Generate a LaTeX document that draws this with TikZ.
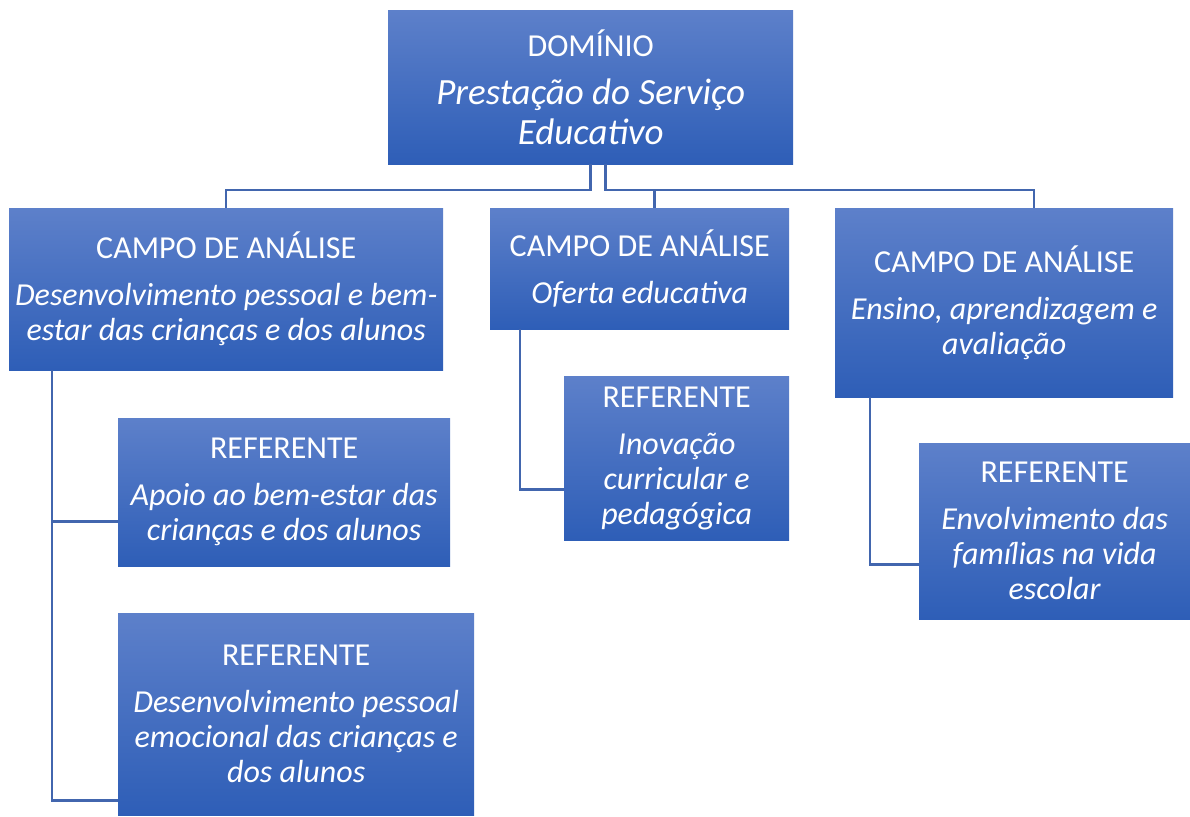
\documentclass[tikz,border=0pt]{standalone}
\usepackage{fontspec}
\setmainfont{Carlito}
\definecolor{topo}{RGB}{93,128,202}
\definecolor{fundo}{RGB}{46,94,183}
\definecolor{linha}{RGB}{66,102,174}
\begin{document}
\begin{tikzpicture}
	[
		x=1pt,
		y=-1pt,
		caixa/.style={anchor=north west,inner sep=0pt,align=center,text=white,
			top color=topo,bottom color=fundo,font=\fontsize{32}{35}\selectfont},
		ligacao/.style={line width=2.5pt,color=linha}
	]
		\useasboundingbox (0,0) rectangle (1190,816);
		% dominio e campos de analise
		\node[caixa,minimum width=405,minimum height=154,font=\fontsize{37}{40}\selectfont] (dominio) at (388,10)
			{{\fontsize{32}{40}\selectfont DOMÍNIO}\\[8pt]\textit{Prestação do Serviço}\\\textit{Educativo}};
		\node[caixa,minimum width=434,minimum height=162] (campoA) at (9,208)
			{CAMPO DE ANÁLISE\\[12pt]\textit{Desenvolvimento pessoal e bem-}\\\textit{estar das crianças e dos alunos}};
		\node[caixa,minimum width=299,minimum height=121] (campoB) at (490,208)
			{CAMPO DE ANÁLISE\\[12pt]\textit{Oferta educativa}};
		\node[caixa,minimum width=338,minimum height=189] (campoC) at (835,208)
			{CAMPO DE ANÁLISE\\[12pt]\textit{Ensino, aprendizagem e}\\\textit{avaliação}};
		% referentes
		\node[caixa,minimum width=332,minimum height=148] (refA) at (118,418)
			{REFERENTE\\[12pt]\textit{Apoio ao bem-estar das}\\\textit{crianças e dos alunos}};
		\node[caixa,minimum width=356,minimum height=202] (refB) at (118,613)
			{REFERENTE\\[12pt]\textit{Desenvolvimento pessoal}\\\textit{emocional das crianças e}\\\textit{dos alunos}};
		\node[caixa,minimum width=225,minimum height=164] (refC) at (564,376)
			{REFERENTE\\[12pt]\textit{Inovação}\\\textit{curricular e}\\\textit{pedagógica}};
		\node[caixa,minimum width=271,minimum height=176] (refD) at (919,443)
			{REFERENTE\\[12pt]\textit{Envolvimento das}\\\textit{famílias na vida}\\\textit{escolar}};
		% ligacoes
		\coordinate (barra) at (0,190);
		\draw [ligacao] (dominio.south) |- (campoA.north |- barra) -- (campoA.north);
		\draw [ligacao] ([xshift=15]dominio.south) |- ([xshift=30]campoC.north |- barra) -- ([xshift=30]campoC.north);
		\draw [ligacao] ([xshift=15]campoB.north |- barra) -- ([xshift=15]campoB.north);
		\draw [ligacao] ([xshift=43]campoA.south west) |- ([yshift=45]refA.south west);
		\draw [ligacao] ([xshift=43]campoA.south west) |- ([yshift=15]refB.south west);
		\draw [ligacao] ([xshift=30]campoB.south west) |- ([yshift=51]refC.south west);
		\draw [ligacao] ([xshift=35]campoC.south west) |- ([yshift=55]refD.south west);
\end{tikzpicture}
\end{document}
